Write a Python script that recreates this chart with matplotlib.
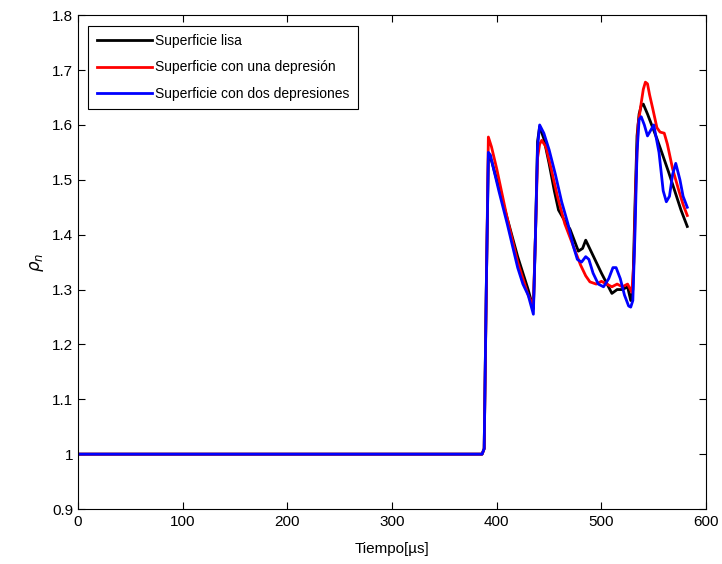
import matplotlib
matplotlib.use("Agg")
import matplotlib.pyplot as plt

# time [us] and rho_n for each surface
lisa_t = [0, 386, 388, 390, 392, 395, 400, 410, 420, 430, 435, 437, 439, 441, 445,
          450, 455, 459, 465, 470, 478, 482, 485, 490, 500, 510, 515, 520, 525, 528,
          530, 532, 534, 536, 538, 540, 544, 548, 553, 558, 564, 570, 576, 582]
lisa_y = [1.0, 1.0, 1.01, 1.30, 1.54, 1.535, 1.50, 1.43, 1.36, 1.30, 1.265, 1.40, 1.57,
          1.597, 1.575, 1.53, 1.48, 1.445, 1.425, 1.41, 1.37, 1.375, 1.39, 1.37, 1.33,
          1.293, 1.30, 1.30, 1.305, 1.28, 1.30, 1.45, 1.58, 1.62, 1.635, 1.638, 1.62,
          1.60, 1.575, 1.548, 1.515, 1.48, 1.445, 1.415]

una_t = [0, 386, 388, 390, 392, 395, 400, 410, 420, 430, 435, 437, 439, 441, 443, 447,
         452, 458, 465, 470, 475, 480, 485, 489, 495, 500, 505, 510, 515, 520, 525, 529,
         531, 533, 535, 538, 540, 542, 544, 546, 549, 553, 556, 560, 563, 568, 574, 578, 582]
una_y = [1.0, 1.0, 1.01, 1.29, 1.578, 1.56, 1.52, 1.43, 1.35, 1.29, 1.27, 1.40, 1.54,
         1.565, 1.572, 1.56, 1.52, 1.47, 1.42, 1.395, 1.37, 1.345, 1.325, 1.314, 1.31,
         1.315, 1.31, 1.305, 1.31, 1.305, 1.31, 1.295, 1.35, 1.50, 1.60, 1.64, 1.665,
         1.678, 1.675, 1.655, 1.63, 1.595, 1.587, 1.585, 1.565, 1.52, 1.48, 1.455, 1.435]

dos_t = [0, 386, 388, 390, 392, 394, 397, 402, 410, 420, 425, 430, 435, 437, 439, 441,
         445, 450, 456, 462, 468, 473, 477, 481, 485, 488, 492, 497, 502, 507, 511, 514,
         518, 522, 526, 528, 530, 532, 534, 536, 538, 541, 544, 547, 550, 555, 559, 562,
         565, 568, 571, 575, 578, 582]
dos_y = [1.0, 1.0, 1.01, 1.30, 1.55, 1.545, 1.52, 1.48, 1.42, 1.34, 1.31, 1.29, 1.255,
         1.40, 1.56, 1.60, 1.585, 1.555, 1.51, 1.46, 1.42, 1.38, 1.355, 1.35, 1.36, 1.355,
         1.33, 1.31, 1.305, 1.32, 1.34, 1.34, 1.32, 1.29, 1.27, 1.268, 1.28, 1.40, 1.55,
         1.61, 1.615, 1.60, 1.58, 1.59, 1.60, 1.55, 1.48, 1.46, 1.47, 1.51, 1.53, 1.50,
         1.47, 1.45]

labels = ["Superficie lisa", "Superficie con una depresión", "Superficie con dos depresiones"]
xticks = [0, 100, 200, 300, 400, 500, 600]
yticks = [0.9, 1.0, 1.1, 1.2, 1.3, 1.4, 1.5, 1.6, 1.7, 1.8]
ytick_labels = ["0.9", "1", "1.1", "1.2", "1.3", "1.4", "1.5", "1.6", "1.7", "1.8"]

plt.rcParams["font.family"] = ["Liberation Sans", "DejaVu Sans"]

fig = plt.figure(figsize=(7.22, 5.64), dpi=100)
ax = fig.add_axes([0.108, 0.0975, 0.870, 0.8755])

ax.plot(lisa_t, lisa_y, color="black", lw=2, label=labels[0])
ax.plot(una_t, una_y, color="red", lw=2, label=labels[1])
ax.plot(dos_t, dos_y, color="blue", lw=2, label=labels[2])

ax.set_xlim(0, 600)
ax.set_ylim(0.9, 1.8)
ax.set_xticks(xticks)
ax.set_yticks(yticks)
ax.set_yticklabels(ytick_labels)
ax.tick_params(direction="in", top=True, right=True, length=5, labelsize=11, colors="black")
ax.tick_params(axis="x", pad=4)
ax.set_xlabel("Tiempo[µs]", fontsize=11, labelpad=10)
ax.set_ylabel(r"$\rho_n$", fontsize=12, labelpad=4)

leg = ax.legend(loc="upper left", fontsize=10, frameon=True, fancybox=False,
                edgecolor="black", framealpha=1, handlelength=4.0, handletextpad=0.2,
                borderpad=0.6, labelspacing=0.9, borderaxespad=0.75)
leg.get_frame().set_linewidth(0.8)

fig.savefig("out.png", dpi=100)
